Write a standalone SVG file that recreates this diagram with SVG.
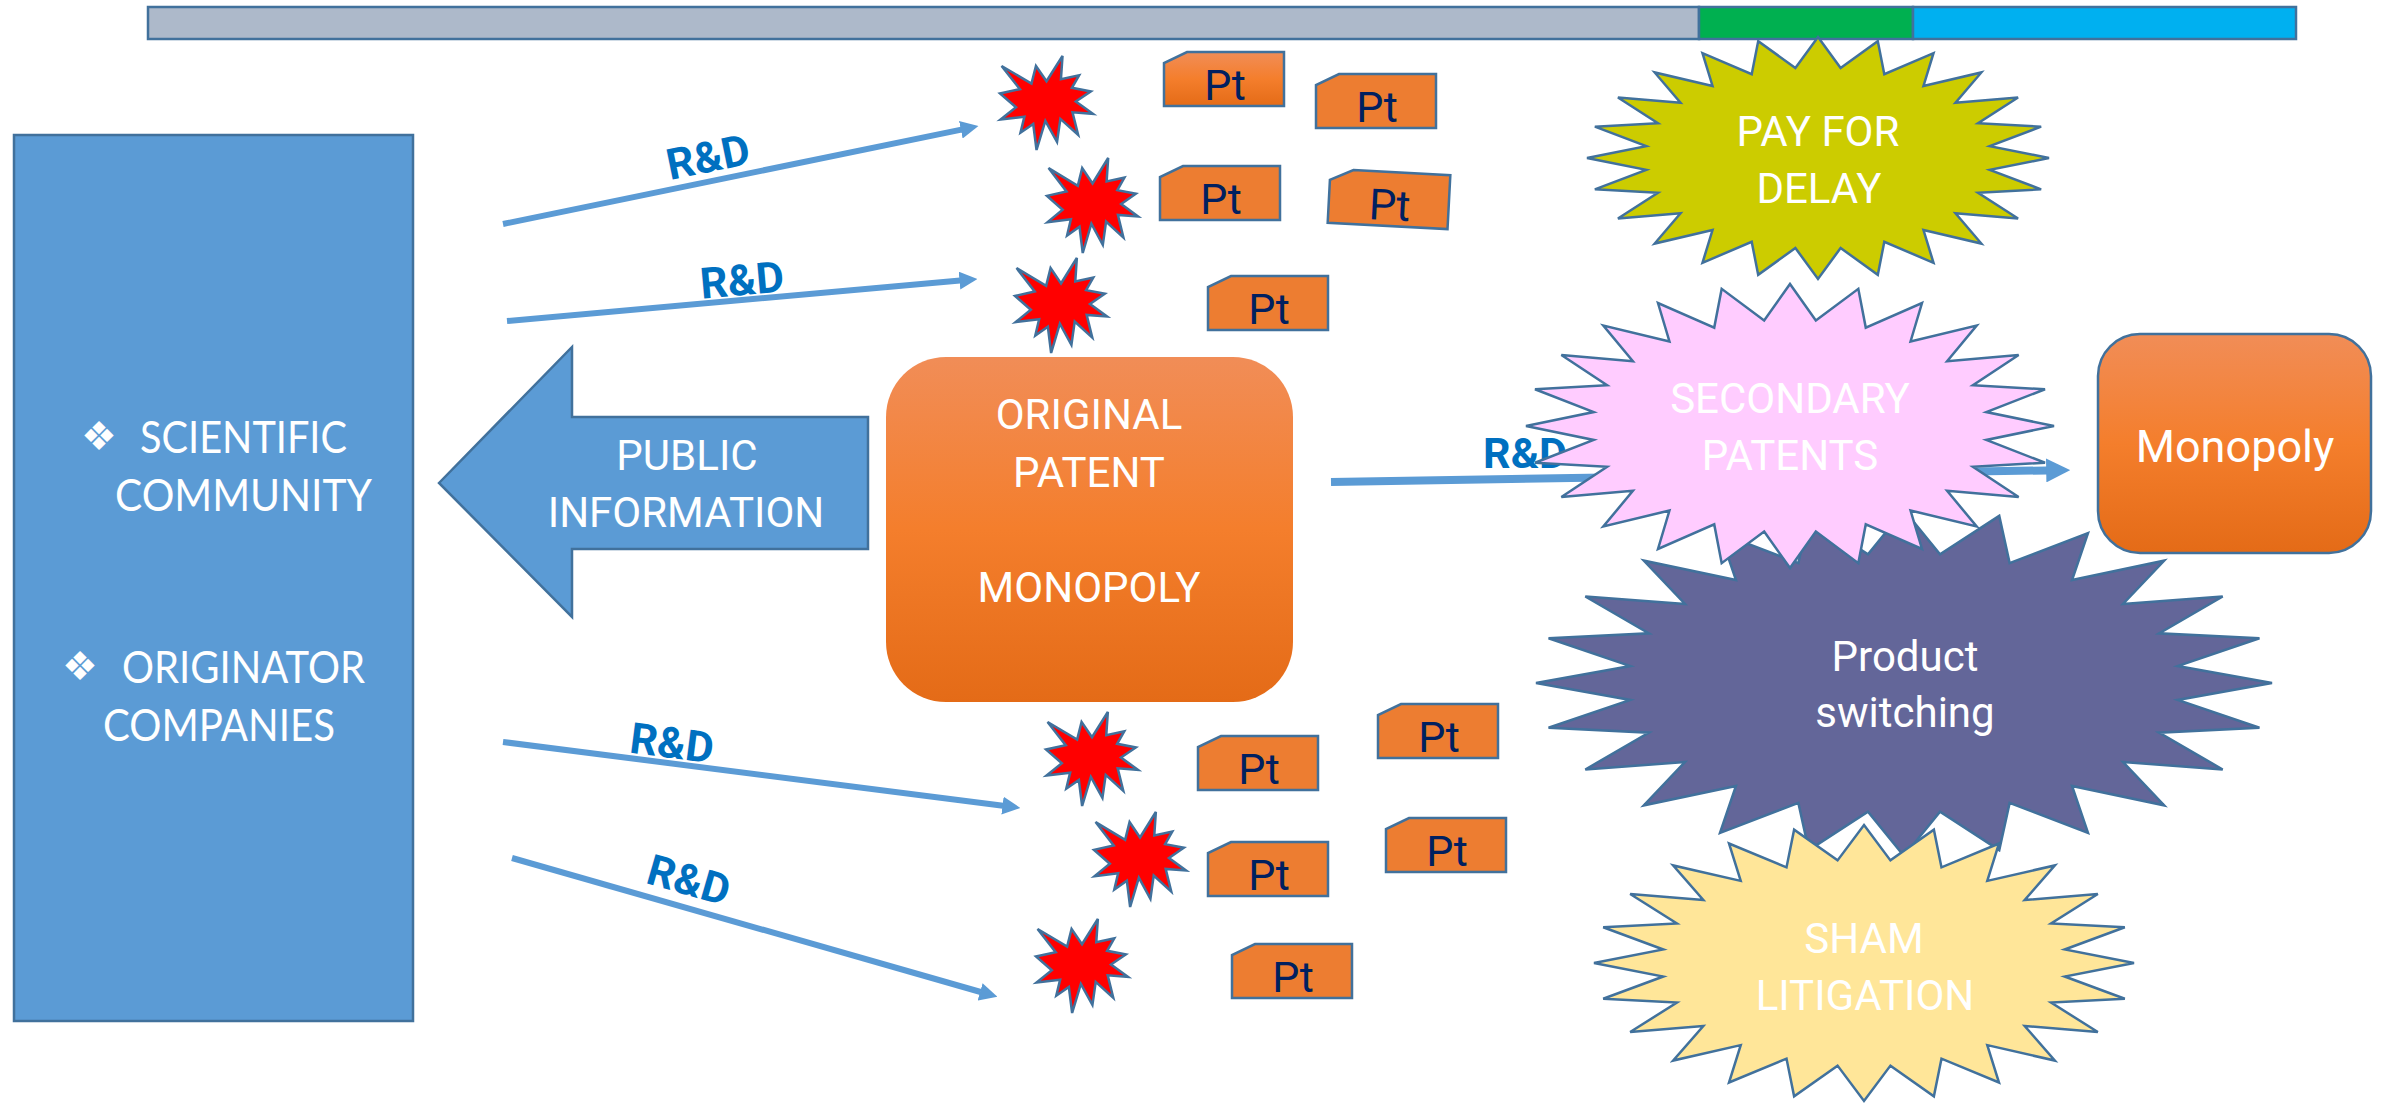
<svg xmlns="http://www.w3.org/2000/svg" xmlns:xlink="http://www.w3.org/1999/xlink" width="2387" height="1104" viewBox="0 0 2387 1104">
<style>
.ol{stroke:#41719C;stroke-width:2.5}
.lbl{font-family:Roboto,'Liberation Sans',sans-serif;fill:#FFFFFF;text-anchor:middle;font-size:42px}
.lft{font-family:Lato,'Open Sans',sans-serif;fill:#FFFFFF;font-size:45px}
.bul{font-family:'DejaVu Sans',sans-serif;fill:#FFFFFF;font-size:40px}
.rd{font-family:Roboto,'Liberation Sans',sans-serif;font-weight:700;fill:#0070C0;font-size:43px;text-anchor:middle}
.pt{font-family:Roboto,'Liberation Sans',sans-serif;fill:#002060;font-size:43px;text-anchor:middle}
.conn{stroke:#5B9BD5;fill:none;stroke-width:6}
.boom{fill:#FF0000}
.ptbox{fill:#ED7D31}
</style>
<defs>
<linearGradient id="og" x1="0" y1="0" x2="0" y2="1">
<stop offset="0" stop-color="#F18D57"/>
<stop offset="0.5" stop-color="#F47E2C"/>
<stop offset="1" stop-color="#E46B17"/>
</linearGradient>
<marker id="ah" viewBox="0 0 3 3" refX="0.1" refY="1.5" markerWidth="3" markerHeight="3" markerUnits="strokeWidth" orient="auto">
<path d="M0,0 L3,1.5 L0,3 Z" fill="#5B9BD5"/>
</marker>
<path id="star24" vector-effect="non-scaling-stroke" d="M0,-100 L9.79,-74.36 L25.88,-96.59 L28.7,-69.29 L50,-86.6 L45.66,-59.51 L70.71,-70.71 L59.51,-45.66 L86.6,-50 L69.29,-28.7 L96.59,-25.88 L74.36,-9.79 L100,0 L74.36,9.79 L96.59,25.88 L69.29,28.7 L86.6,50 L59.51,45.66 L70.71,70.71 L45.66,59.51 L50,86.6 L28.7,69.29 L25.88,96.59 L9.79,74.36 L0,100 L-9.79,74.36 L-25.88,96.59 L-28.7,69.29 L-50,86.6 L-45.66,59.51 L-70.71,70.71 L-59.51,45.66 L-86.6,50 L-69.29,28.7 L-96.59,25.88 L-74.36,9.79 L-100,0 L-74.36,-9.79 L-96.59,-25.88 L-69.29,-28.7 L-86.6,-50 L-59.51,-45.66 L-70.71,-70.71 L-45.66,-59.51 L-50,-86.6 L-28.7,-69.29 L-25.88,-96.59 L-9.79,-74.36 Z"/>
<path id="boom" vector-effect="non-scaling-stroke" d="M50,26.85 L67.23,0 L65.53,24.65 L85.09,20.63 L77.32,33.87 L97.67,37.67 L81.51,48.5 L100,61.53 L77.95,59.92 L84,83.77 L64.91,66.93 L61.33,91.38 L48.76,69.14 L39.28,100 L35.72,72.35 L22.05,81.56 L26.24,64.52 L0.63,67.53 L17.23,54.51 L0,39.88 L21.42,35.26 L1.71,10.63 L33.85,29.26 L38.67,10.63 Z"/>
<path id="ptshape" d="M23,0 L120,0 L120,54 L0,54 L0,11 Z"/>
</defs>

<g id="timeline">
<rect x="148" y="7" width="1551" height="32" fill="#ADB9CA" class="ol"/>
<rect x="1699" y="7" width="214" height="32" fill="#00B050" class="ol"/>
<rect x="1913" y="7" width="383" height="32" fill="#00B0F0" class="ol"/>
</g>

<g id="left-box">
<rect x="14" y="135" width="399" height="886" fill="#5B9BD5" class="ol"/>
<text class="bul" x="81" y="450">❖</text>
<text class="lft" x="140" y="453" textLength="207" lengthAdjust="spacingAndGlyphs">SCIENTIFIC</text>
<text class="lft" x="115" y="511" textLength="257" lengthAdjust="spacingAndGlyphs">COMMUNITY</text>
<text class="bul" x="62" y="680">❖</text>
<text class="lft" x="122" y="683" textLength="243" lengthAdjust="spacingAndGlyphs">ORIGINATOR</text>
<text class="lft" x="103" y="741" textLength="232" lengthAdjust="spacingAndGlyphs">COMPANIES</text>
</g>

<g id="public-information">
<polygon points="439,483 572,347 572,417 868,417 868,549 572,549 572,617" fill="#5B9BD5" class="ol"/>
<text class="lbl" x="687" y="470">PUBLIC</text>
<text class="lbl" x="686" y="527">INFORMATION</text>
</g>

<g id="original-patent">
<rect x="886" y="357" width="407" height="345" rx="60" ry="60" fill="url(#og)"/>
<text class="lbl" x="1089" y="429">ORIGINAL</text>
<text class="lbl" x="1089" y="487">PATENT</text>
<text class="lbl" x="1089" y="602">MONOPOLY</text>
</g>

<g id="connectors">
<line class="conn" x1="503" y1="224" x2="961.4" y2="129.6" marker-end="url(#ah)"/>
<line class="conn" x1="507" y1="321" x2="960.1" y2="280.6" marker-end="url(#ah)"/>
<line class="conn" x1="503" y1="742" x2="1003.1" y2="805.7" marker-end="url(#ah)"/>
<line class="conn" x1="512" y1="858" x2="980.7" y2="992" marker-end="url(#ah)"/>
<line class="conn" style="stroke-width:8" x1="1331" y1="482" x2="2047" y2="470.4" marker-end="url(#ah)"/>
<text class="rd" x="708" y="172" transform="rotate(-11.6 708 157)">R&amp;D</text>
<text class="rd" x="742" y="295" transform="rotate(-5.1 742 280)">R&amp;D</text>
<text class="rd" x="672" y="758" transform="rotate(7.3 672 743)">R&amp;D</text>
<text class="rd" x="689" y="895" transform="rotate(16 689 880)">R&amp;D</text>
<text class="rd" x="1525" y="468">R&amp;D</text>
</g>

<g id="discoveries">
<use href="#boom" class="boom ol" transform="translate(1000,56) scale(0.93,0.94)"/>
<use href="#boom" class="boom ol" transform="translate(1047,158) scale(0.91,0.95)"/>
<use href="#boom" class="boom ol" transform="translate(1015,258) scale(0.92,0.95)"/>
<use href="#boom" class="boom ol" transform="translate(1046,712) scale(0.92,0.94)"/>
<use href="#boom" class="boom ol" transform="translate(1094,812) scale(0.92,0.95)"/>
<use href="#boom" class="boom ol" transform="translate(1036,919) scale(0.92,0.94)"/>
</g>

<g id="pt1"><use href="#ptshape" class="ol" fill="url(#og)" transform="translate(1164,52)"/><text class="pt" x="1225" y="100">Pt</text></g>
<g id="pt2"><use href="#ptshape" class="ptbox ol" transform="translate(1316,74)"/><text class="pt" x="1377" y="122">Pt</text></g>
<g id="pt3"><use href="#ptshape" class="ptbox ol" transform="translate(1160,166)"/><text class="pt" x="1221" y="214">Pt</text></g>
<g id="pt4" transform="rotate(3 1389 199)"><use href="#ptshape" class="ptbox ol" transform="translate(1329,172)"/><text class="pt" x="1390" y="220">Pt</text></g>
<g id="pt5"><use href="#ptshape" class="ptbox ol" transform="translate(1208,276)"/><text class="pt" x="1269" y="324">Pt</text></g>
<g id="pt6"><use href="#ptshape" class="ptbox ol" transform="translate(1198,736)"/><text class="pt" x="1259" y="784">Pt</text></g>
<g id="pt7"><use href="#ptshape" class="ptbox ol" transform="translate(1378,704)"/><text class="pt" x="1439" y="752">Pt</text></g>
<g id="pt8"><use href="#ptshape" class="ptbox ol" transform="translate(1208,842)"/><text class="pt" x="1269" y="890">Pt</text></g>
<g id="pt9"><use href="#ptshape" class="ptbox ol" transform="translate(1386,818)"/><text class="pt" x="1447" y="866">Pt</text></g>
<g id="pt10"><use href="#ptshape" class="ptbox ol" transform="translate(1232,944)"/><text class="pt" x="1293" y="992">Pt</text></g>

<g id="product-switching">
<use href="#star24" class="ol" fill="#636699" transform="translate(1904,683) scale(3.68,1.73)"/>
<text class="lbl" x="1905" y="671">Product</text>
<text class="lbl" x="1905" y="727">switching</text>
</g>

<g id="secondary-patents">
<use href="#star24" class="ol" fill="#FFCCFF" transform="translate(1790,426) scale(2.64,1.42)"/>
<text class="lbl" x="1790" y="413">SECONDARY</text>
<text class="lbl" x="1790" y="470">PATENTS</text>
</g>

<g id="sham-litigation">
<use href="#star24" class="ol" fill="#FFE699" transform="translate(1864,963) scale(2.7,1.38)"/>
<text class="lbl" x="1864" y="953">SHAM</text>
<text class="lbl" x="1865" y="1010">LITIGATION</text>
</g>

<g id="pay-for-delay">
<use href="#star24" class="ol" fill="#CCCC00" transform="translate(1818,158) scale(2.31,1.21)"/>
<text class="lbl" x="1818" y="146">PAY FOR</text>
<text class="lbl" x="1819" y="203">DELAY</text>
</g>

<g id="monopoly">
<rect x="2098" y="334" width="273" height="219" rx="42" ry="42" fill="url(#og)" class="ol"/>
<text class="lbl" x="2235" y="462" style="font-size:45px">Monopoly</text>
</g>
</svg>
